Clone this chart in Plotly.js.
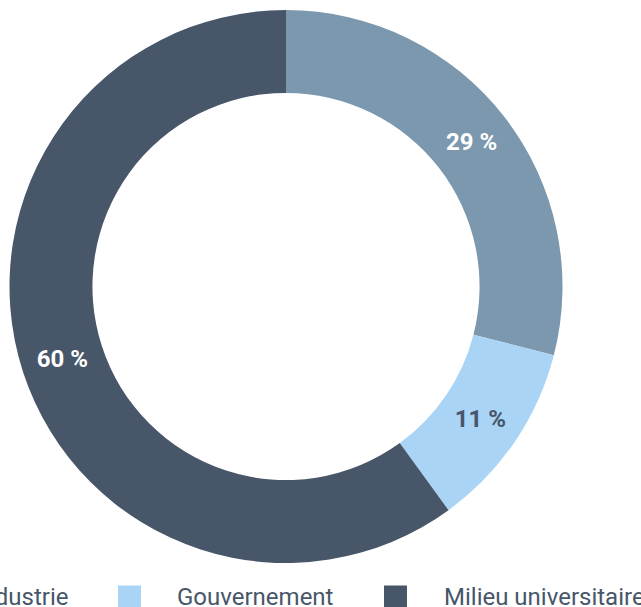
<!DOCTYPE html>
<html>
<head>
<meta charset="utf-8">
<script src="https://cdn.plot.ly/plotly-3.0.1.min.js"></script>
<style>html,body{margin:0;padding:0;background:#fff;}#chart{width:641px;height:607px;}</style>
</head>
<body>
<div id="chart"></div>
<script>
const categories = ["Industrie", "Gouvernement", "Milieu universitaire"];
const values = [29, 11, 60];
const sliceColors = ["#7b98af", "#aad4f5", "#475669"];
const labelColors = ["#ffffff", "#475669", "#ffffff"];

const W = 641, H = 607;
const px = x => x / W;
const py = y => 1 - y / H;

// custom legend layout (pixel positions of each entry)
const legendSquareX = [-84, 118, 384];
const legendTextX = [-27, 175, 442];
const legendY = 597;
const sq = 23;

const shapes = [];
const annotations = [];
categories.forEach((c, i) => {
  shapes.push({
    type: "rect", xref: "paper", yref: "paper",
    x0: px(legendSquareX[i]), x1: px(legendSquareX[i] + sq),
    y0: py(legendY - sq / 2), y1: py(legendY + sq / 2),
    fillcolor: sliceColors[i], line: {width: 0}
  });
  annotations.push({
    xref: "paper", yref: "paper", x: px(legendTextX[i]), y: py(legendY),
    xanchor: "left", yanchor: "middle", showarrow: false, text: c,
    font: {family: "Roboto", size: 24, color: "#475669"}
  });
});

const trace = {
  type: "pie",
  labels: categories,
  values: values,
  sort: false,
  direction: "clockwise",
  rotation: 0,
  hole: 0.7,
  marker: {colors: sliceColors, line: {width: 0}},
  texttemplate: "%{value} %",
  textposition: "inside",
  insidetextorientation: "horizontal",
  textfont: {family: "Roboto", size: 24, weight: 700, color: labelColors},
  domain: {x: [9 / W, 563 / W], y: [1 - 563 / H, 1 - 10 / H]},
  showlegend: false,
  hoverinfo: "none"
};

Plotly.newPlot("chart", [trace], {
  width: W, height: H,
  margin: {l: 0, r: 0, t: 0, b: 0},
  paper_bgcolor: "#ffffff",
  showlegend: false,
  shapes: shapes,
  annotations: annotations
}, {displayModeBar: false, staticPlot: true});
</script>
</body>
</html>
